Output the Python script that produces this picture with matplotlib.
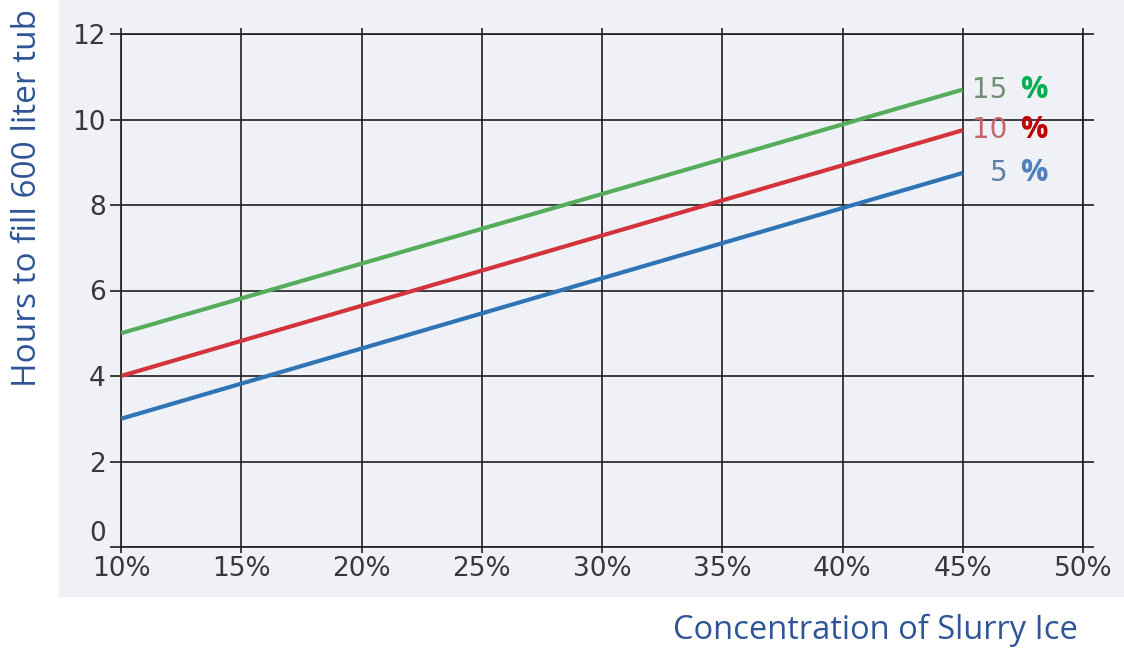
import matplotlib.pyplot as plt
from matplotlib.patches import Rectangle
from matplotlib.ticker import FuncFormatter

# data (start and end of each straight line)
konc = [10, 45]
godz_5 = [3.0, 8.75]
godz_10 = [4.0, 9.75]
godz_15 = [5.0, 10.7]

serie = [
    ('15', godz_15, '#55ad5b', '#6f8f72', '#00b050'),
    ('10', godz_10, '#d3343b', '#c4656c', '#c00000'),
    ('5', godz_5, '#2f74b5', '#5d7fa6', '#4f81bd'),
]

x_ticks = [10, 15, 20, 25, 30, 35, 40, 45, 50]
y_ticks = [0, 2, 4, 6, 8, 10, 12]

fig = plt.figure(figsize=(11.24, 6.5), dpi=100)
tlo = Rectangle((59/1124, 1-597/650), 1, 1, transform=fig.transFigure,
                facecolor='#f0f1f7', edgecolor='none', zorder=-5)
fig.add_artist(tlo)

ax = fig.add_axes([121/1124, 1-547/650, (1083-121)/1124, (547-34)/650])
ax.set_facecolor('none')

for nazwa, y, kolor, kol_liczby, kol_proc in serie:
    ax.plot(konc, y, color=kolor, lw=3, solid_capstyle='butt', zorder=3)
    ax.annotate(nazwa, (konc[-1], y[-1]), xytext=(32, 0), textcoords='offset points',
                ha='right', va='center', fontsize=20, color=kol_liczby)
    ax.annotate('%', (konc[-1], y[-1]), xytext=(41, 0), textcoords='offset points',
                ha='left', va='center', fontsize=22, color=kol_proc, fontweight='bold',
                family='Open Sans')

ax.set_xlim(10, 50)
ax.set_ylim(0, 12)
ax.set_xticks(x_ticks)
ax.set_yticks(y_ticks)
ax.xaxis.set_major_formatter(FuncFormatter(lambda v, p: f'{v:.0f}%'))
ax.grid(True, color='#1e1e1e', lw=1.2, zorder=1)
for s in ax.spines.values():
    s.set_color('#1e1e1e')
    s.set_linewidth(1.2)
ax.tick_params(axis='x', top=True, direction='out', length=4.5, width=1.2,
               color='#1e1e1e', labelsize=19, labelcolor='#383838', pad=2)
ax.tick_params(axis='y', right=True, direction='out', length=8, width=1.2,
               color='#1e1e1e', labelsize=19, labelcolor='#383838', pad=3)
ax.get_yticklabels()[0].set_va('bottom')

fig.text(28/1124, 1-198/650, 'Hours to fill 600 liter tub', rotation=90,
         ha='center', va='center', fontsize=24, color='#2f5597', family='Open Sans')
fig.text(1078/1124, 1-630/650, 'Concentration of Slurry Ice',
         ha='right', va='center', fontsize=23.5, color='#2f5597', family='Open Sans')

fig.savefig('out.png', dpi=100)
plt.close(fig)
